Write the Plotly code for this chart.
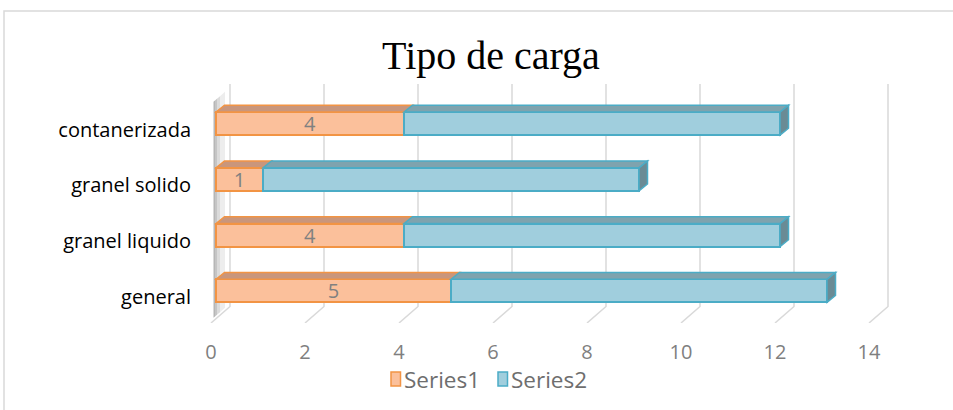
import plotly.graph_objects as go

# ---------------- data ----------------
categories = ["general", "granel liquido", "granel solido", "contanerizada"]
series1 = [5, 4, 1, 4]
series2 = [8, 8, 8, 8]
series_names = ["Series1", "Series2"]
x_ticks = [0, 2, 4, 6, 8, 10, 12, 14]
x_tick_labels = ["0", "2", "4", "6", "8", "10", "12", "14"]
title_text = "Tipo de carga"

# ---------------- geometry / style ----------------
W, H = 953, 410
L, R, T, B = 196, 900, 84, 323          # plot area pixel edges
PX_PER_X, X0_PX = 47.0, 216.0
PX_PER_Y, Y0_PX = 55.75, 290.8
xmin = (L - X0_PX) / PX_PER_X
xmax = (R - X0_PX) / PX_PER_X
ymin = -(B - Y0_PX) / PX_PER_Y
ymax = (Y0_PX - T) / PX_PER_Y

BAR_W = 23 / PX_PER_Y
DEPTH_DX = 8.5 / PX_PER_X
DEPTH_DY = 6.8 / PX_PER_Y
GRID_BACK = 14 / PX_PER_X
GRID_FRONT = -5 / PX_PER_X
FLOOR_BACK_Y = -(306.5 - Y0_PX) / PX_PER_Y

C1_FACE, C1_LINE, C1_TOP = "#FBC09B", "#F29444", "#C9967C"
C2_FACE, C2_LINE, C2_TOP, C2_END = "#A0CEDD", "#4BACC6", "#7FA3AE", "#6A8B95"
GRID = "#D9D9D9"
FONT = "Open Sans"
LEGEND_COLORS = [(C1_FACE, C1_LINE), (C2_FACE, C2_LINE)]

ypos = list(range(len(categories)))

fig = go.Figure()
fig.add_trace(go.Bar(
    y=ypos, x=series1, orientation="h", name=series_names[0], width=BAR_W,
    marker=dict(color=C1_FACE, line=dict(color=C1_LINE, width=2)),
    text=[str(v) for v in series1], textposition="inside", insidetextanchor="middle",
    textangle=0, constraintext="none",
    textfont=dict(family=FONT, size=20, color="#808080"),
))
fig.add_trace(go.Bar(
    y=ypos, x=series2, orientation="h", name=series_names[1], width=BAR_W,
    marker=dict(color=C2_FACE, line=dict(color=C2_LINE, width=2)),
))

shapes = []
annotations = []
def px_to_paper_x(px):
    return (px - L) / (R - L)
def px_to_paper_y(py):
    return (B - py) / (B - T)

# border frame
shapes.append(dict(type="rect", xref="paper", yref="paper",
                   x0=px_to_paper_x(4), x1=px_to_paper_x(W + 10),
                   y0=px_to_paper_y(H + 10), y1=px_to_paper_y(11),
                   line=dict(color="#D9D9D9", width=1.5), fillcolor="rgba(0,0,0,0)", layer="below"))

# left wall soft shading (gradient approximated by strips)
slope = (FLOOR_BACK_Y - ymin) / (GRID_BACK - GRID_FRONT)
wall_strips = [(7, 12, 0.12), (4, 7, 0.25), (2, 4, 0.40), (0.5, 2, 0.50)]
for a_px, b_px, alpha in wall_strips:
    wx0 = GRID_FRONT + (2 + a_px) / PX_PER_X
    wx1 = GRID_FRONT + (2 + b_px) / PX_PER_X
    yb0 = ymin + (wx0 - GRID_FRONT) * slope + 3 / PX_PER_Y
    yb1 = ymin + (wx1 - GRID_FRONT) * slope + 3 / PX_PER_Y
    top0 = (Y0_PX - 104) / PX_PER_Y + (wx0 - GRID_FRONT) * slope
    top1 = (Y0_PX - 104) / PX_PER_Y + (wx1 - GRID_FRONT) * slope
    shapes.append(dict(type="path", xref="x", yref="y", layer="below",
                       path=f"M {wx0},{yb0} L {wx1},{yb1} L {wx1},{top1} L {wx0},{top0} Z",
                       fillcolor=f"rgba(110,110,110,{alpha})", line=dict(width=0)))

# gridlines (back wall + floor)
for v in x_ticks:
    xb = v + GRID_BACK
    xf = v + GRID_FRONT
    shapes.append(dict(type="path", xref="x", yref="y", layer="below",
                       path=f"M {xb},{ymax} L {xb},{FLOOR_BACK_Y} L {xf},{ymin}",
                       line=dict(color=GRID, width=1.5)))

# 3D top faces and end face
for i, y in enumerate(ypos):
    yt = y + BAR_W / 2
    yb = y - BAR_W / 2
    segs = [(0, series1[i], C1_TOP, C1_LINE),
            (series1[i], series1[i] + series2[i], C2_TOP, C2_LINE)]
    for x0, x1, ctop, cline in segs:
        shapes.append(dict(type="path", xref="x", yref="y", layer="above",
                           path=f"M {x0},{yt} L {x0 + DEPTH_DX},{yt + DEPTH_DY} L {x1 + DEPTH_DX},{yt + DEPTH_DY} L {x1},{yt} Z",
                           fillcolor=ctop, line=dict(color=cline, width=1.5)))
    xe = series1[i] + series2[i]
    shapes.append(dict(type="path", xref="x", yref="y", layer="above",
                       path=f"M {xe},{yb} L {xe + DEPTH_DX},{yb + DEPTH_DY} L {xe + DEPTH_DX},{yt + DEPTH_DY} L {xe},{yt} Z",
                       fillcolor=C2_END, line=dict(color=C2_LINE, width=1.5)))

# custom legend (keys + labels)
legend_key_x = [391, 498]
for (face, line), name, kx in zip(LEGEND_COLORS, series_names, legend_key_x):
    shapes.append(dict(type="rect", xref="paper", yref="paper",
                       x0=px_to_paper_x(kx), x1=px_to_paper_x(kx + 9.5),
                       y0=px_to_paper_y(386), y1=px_to_paper_y(372),
                       fillcolor=face, line=dict(color=line, width=1.5)))
    annotations.append(dict(text=name, xref="paper", yref="paper",
                            x=px_to_paper_x(kx + 10.5), y=px_to_paper_y(379.5),
                            xanchor="left", yanchor="middle", showarrow=False,
                            font=dict(family=FONT, size=22.5, color="#6E6E6E")))

fig.update_layout(
    width=W, height=H,
    margin=dict(l=L, r=W - R, t=T, b=H - B, autoexpand=False),
    paper_bgcolor="white", plot_bgcolor="rgba(0,0,0,0)",
    barmode="stack", bargap=0,
    shapes=shapes, annotations=annotations,
    title=dict(text=title_text, font=dict(family="Liberation Serif", size=40, color="#000000"),
               x=491 / W, xanchor="center", xref="container",
               y=1 - 55 / H, yanchor="middle", yref="container"),
    showlegend=False,
    xaxis=dict(range=[xmin, xmax], tickvals=x_ticks, ticktext=x_tick_labels,
               showgrid=False, zeroline=False, showline=False, ticks="", automargin=False,
               tickfont=dict(family=FONT, size=20, color="#7F7F7F"),
               ticklabelstandoff=15, ticklabelshift=-5, fixedrange=True),
    yaxis=dict(range=[ymin, ymax], tickvals=ypos, ticktext=categories,
               showgrid=False, zeroline=False, showline=False, ticks="", automargin=False,
               tickfont=dict(family=FONT, size=20, color="#000000"),
               ticklabelstandoff=4, ticklabelshift=6, fixedrange=True),
)

fig.write_html("out.html", config={"displayModeBar": False, "staticPlot": True},
               post_script="document.body.style.margin='0';document.body.style.overflow='hidden';")
